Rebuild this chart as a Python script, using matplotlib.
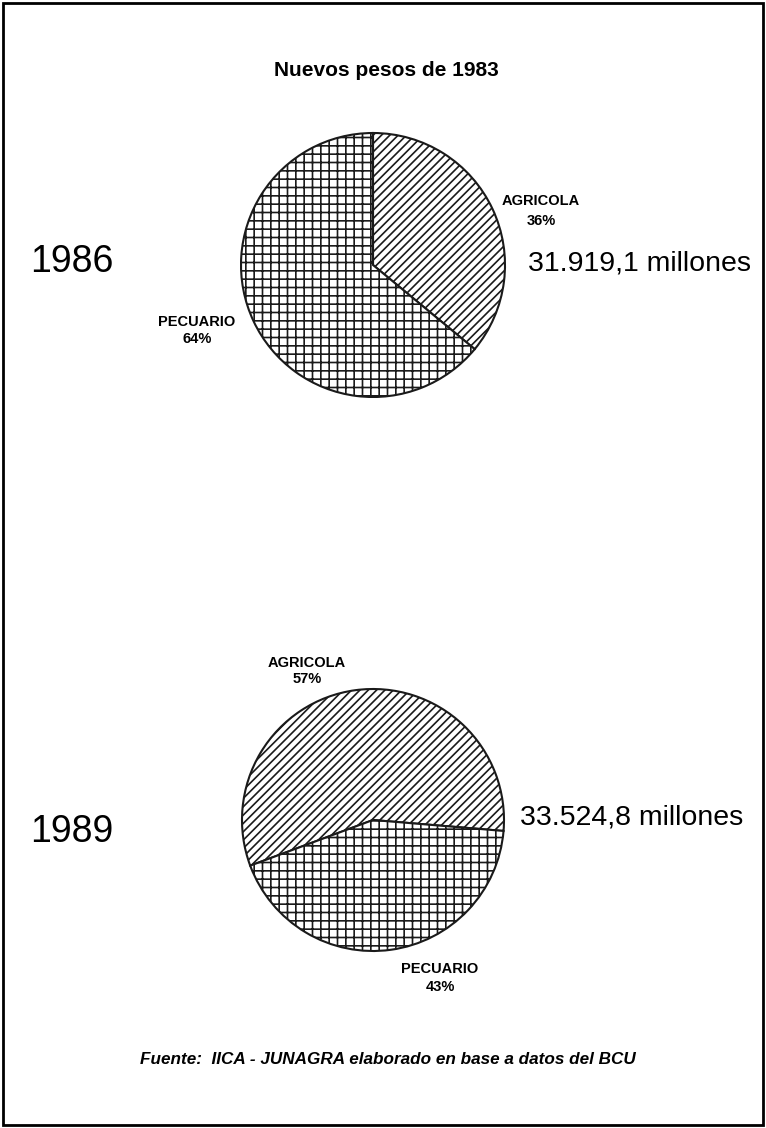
import matplotlib
matplotlib.use('Agg')
import matplotlib.pyplot as plt
from matplotlib.patches import Rectangle

# data
years = ['1986', '1989']
totals = ['31.919,1 millones', '33.524,8 millones']
sectors_1986 = ['AGRICOLA', 'PECUARIO']
shares_1986 = [36, 64]
sectors_1989 = ['AGRICOLA', 'PECUARIO']
shares_1989 = [57, 43]
hatches = ['////', '++']

W, H = 766, 1128
plt.rcParams['hatch.linewidth'] = 1.2
plt.rcParams['hatch.color'] = '#222222'

fig = plt.figure(figsize=(W / 100, H / 100), dpi=100)
fig.patch.set_facecolor('white')

NARROW = ['Liberation Sans Narrow', 'Liberation Sans', 'DejaVu Sans']
SANS = ['Liberation Sans', 'DejaVu Sans']


def px(x, y):
    # pixel (from top-left) to figure fraction
    return x / W, 1 - y / H


def txt(x, y, s, **kw):
    fx, fy = px(x, y)
    fig.text(fx, fy, s, ha='center', va='center', **kw)


def draw_pie(cx, cy, r, values, startangle, counterclock):
    size = 2.5 * r
    fx, fy = px(cx - size / 2, cy + size / 2)
    ax = fig.add_axes([fx, fy, size / W, size / H])
    wedges, _ = ax.pie(values, startangle=startangle, counterclock=counterclock,
                       colors=['white', 'white'],
                       wedgeprops=dict(edgecolor='#1a1a1a', linewidth=1.5))
    for w, h in zip(wedges, hatches):
        w.set_hatch(h)
    return ax


# border
fig.add_artist(Rectangle((3 / W, 3 / H), (W - 6) / W, (H - 6) / H,
                         transform=fig.transFigure, fill=False,
                         edgecolor='black', linewidth=2))

txt(386, 71, 'Nuevos pesos de 1983', family=NARROW, fontweight='bold', fontsize=15)

# 1986
draw_pie(373, 265, 132, shares_1986, 90, False)
txt(72, 262, years[0], family=SANS, fontsize=27)
txt(640, 263, totals[0], family=SANS, fontsize=20.5)
txt(541, 201, sectors_1986[0], family=SANS, fontweight='bold', fontsize=10.5)
txt(541, 221, f'{shares_1986[0]}%', family=SANS, fontweight='bold', fontsize=10.5)
txt(197, 322, sectors_1986[1], family=SANS, fontweight='bold', fontsize=10.5)
txt(197, 339, f'{shares_1986[1]}%', family=SANS, fontweight='bold', fontsize=10.5)

# 1989
draw_pie(373, 820, 131, shares_1989, -4.8, True)
txt(72, 832, years[1], family=SANS, fontsize=27)
txt(632, 818, totals[1], family=SANS, fontsize=20.5)
txt(307, 663, sectors_1989[0], family=SANS, fontweight='bold', fontsize=10.5)
txt(307, 679, f'{shares_1989[0]}%', family=SANS, fontweight='bold', fontsize=10.5)
txt(440, 969, sectors_1989[1], family=SANS, fontweight='bold', fontsize=10.5)
txt(440, 987, f'{shares_1989[1]}%', family=SANS, fontweight='bold', fontsize=10.5)

txt(388, 1060, 'Fuente:  IICA - JUNAGRA elaborado en base a datos del BCU',
    family=NARROW, fontweight='bold', fontstyle='italic', fontsize=12.3)

fig.savefig('out.png', dpi=100, facecolor='white')
